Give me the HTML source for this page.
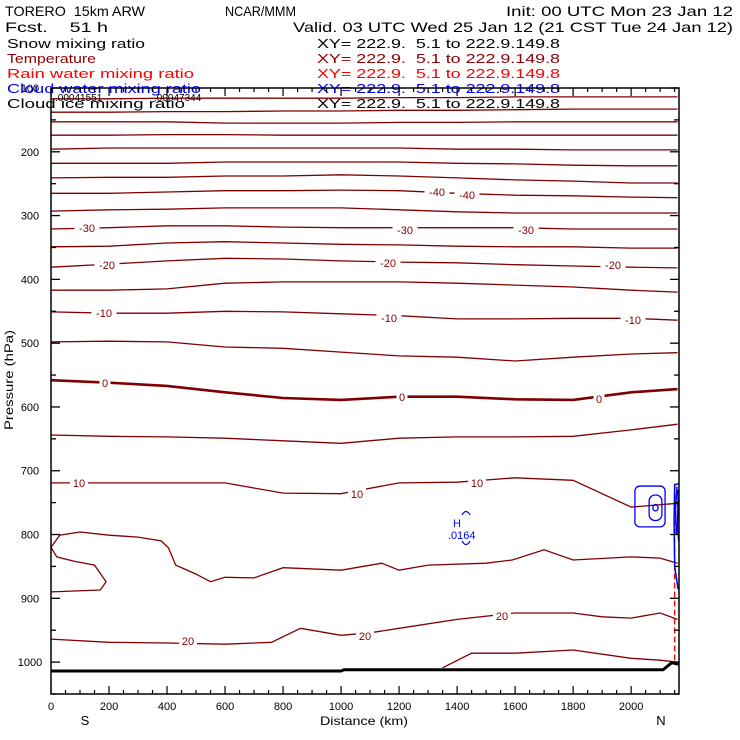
<!DOCTYPE html>
<html><head><meta charset="utf-8"><title>TORERO cross-section</title>
<style>
html,body{margin:0;padding:0;background:#fff;}
svg{display:block;}
text{font-family:"Liberation Sans",sans-serif;white-space:pre;}
</style></head>
<body>
<svg id="chart" width="740" height="740" viewBox="0 0 740 740" xmlns="http://www.w3.org/2000/svg" xml:space="preserve">
  <rect x="0" y="0" width="740" height="740" fill="#fff"/>
  <g font-size="14">
    <text x="5" y="16" textLength="140" lengthAdjust="spacingAndGlyphs">TORERO  15km ARW</text>
    <text x="225" y="16" textLength="71" lengthAdjust="spacingAndGlyphs">NCAR/MMM</text>
    <text x="506" y="16" textLength="227" lengthAdjust="spacingAndGlyphs">Init: 00 UTC Mon 23 Jan 12</text>
    <text x="5" y="32" textLength="103" lengthAdjust="spacingAndGlyphs">Fcst.    51 h</text>
    <text x="293" y="32" textLength="440" lengthAdjust="spacingAndGlyphs">Valid. 03 UTC Wed 25 Jan 12 (21 CST Tue 24 Jan 12)</text>
  </g>
  <g font-size="13">
    <text x="7" y="48" textLength="138" lengthAdjust="spacingAndGlyphs" fill="#000">Snow mixing ratio</text>
    <text x="7" y="63" textLength="89" lengthAdjust="spacingAndGlyphs" fill="#8b0000">Temperature</text>
    <text x="7" y="78" textLength="187" lengthAdjust="spacingAndGlyphs" fill="#ff0000">Rain water mixing ratio</text>
    <text x="7" y="93" textLength="194" lengthAdjust="spacingAndGlyphs" fill="#0000ff">Cloud water mixing ratio</text>
    <text x="7" y="108" textLength="178" lengthAdjust="spacingAndGlyphs" fill="#000">Cloud ice mixing ratio</text>
    <text x="317" y="48" textLength="243" lengthAdjust="spacingAndGlyphs" fill="#000">XY= 222.9.  5.1 to 222.9.149.8</text>
    <text x="317" y="63" textLength="243" lengthAdjust="spacingAndGlyphs" fill="#8b0000">XY= 222.9.  5.1 to 222.9.149.8</text>
    <text x="317" y="78" textLength="243" lengthAdjust="spacingAndGlyphs" fill="#ff0000">XY= 222.9.  5.1 to 222.9.149.8</text>
    <text x="317" y="93" textLength="243" lengthAdjust="spacingAndGlyphs" fill="#0000ff">XY= 222.9.  5.1 to 222.9.149.8</text>
    <text x="317" y="108" textLength="243" lengthAdjust="spacingAndGlyphs" fill="#000">XY= 222.9.  5.1 to 222.9.149.8</text>
  </g>
  <g id="plot"></g>
  <g id="axes"></g>
</svg>
<script>
const NS = "http://www.w3.org/2000/svg";
// ---- data ----
const kmGrid = [0,200,400,600,800,1000,1200,1400,1600,1800,2000,2160];
const isoLevels = [-75,-70,-65,-60,-55,-50,-45,-40,-35,-30,-25,-20,-15,-10,-5,0,5,10];
const isoP_m75 = [117,117,116,116,116,116,115,115,114,114,114,114];
const isoP_m70 = [138,138,137,137,136,136,135,135,134,133,133,133];
const isoP_m65 = [153,153,153,155,155,155,154,154,153,153,153,153];
const isoP_m60 = [174,174,173,173,174,174,174,174,174,174,174,174];
const isoP_m55 = [196,194,194,194,194,194,194,196,196,197,197,197];
const isoP_m50 = [218,218,218,216,216,216,216,218,219,221,222,222];
const isoP_m45 = [241,240,240,238,238,236,238,241,244,246,249,249];
const isoP_m40 = [265,265,263,261,261,260,261,265,268,269,271,272];
const isoP_m35 = [293,291,290,288,288,288,291,294,296,296,296,296];
const isoP_m30 = [321,319,316,316,318,319,319,319,319,321,321,321];
const isoP_m25 = [349,348,343,341,343,345,346,348,349,349,351,351];
const isoP_m20 = [381,376,371,367,368,371,373,374,377,379,381,382];
const isoP_m15 = [417,417,415,406,404,404,404,406,409,412,417,420];
const isoP_m10 = [451,453,453,450,451,454,457,462,462,461,461,464];
const isoP_m5  = [498,497,498,506,508,514,520,522,528,522,517,515];
const isoP_0   = [558,562,567,577,586,589,584,584,588,589,577,572];
const isoP_5   = [644,646,647,649,653,657,649,647,647,646,636,627];
const isoP_10  = [719,719,719,719,735,736,719,718,711,715,757,751];
const isoP15_km = [0,170,190,150,80,20,0,30,100,200,300,380,405,430,500,550,600,700,800,1000,1140,1200,1300,1500,1590,1700,1800,2000,2100,2160];
const isoP15_p  = [890,887,874,848,842,835,820,801,796,801,804,810,821,848,862,874,867,868,852,856,845,856,848,845,840,824,840,835,837,845];
const isoP20_km = [0,200,400,600,760,860,1000,1100,1200,1400,1600,1800,1900,2000,2100,2160];
const isoP20_p  = [964,969,970,972,969,947,958,954,947,933,923,923,929,931,923,933];
const isoP25_km = [1350,1450,1600,1800,2000,2100,2160];
const isoP25_p  = [1009,986,986,981,994,997,1000];
const groundKm = [0,1000,1010,2110,2140,2160,2165];
const groundP  = [1014,1014,1012,1012,1001,1003,1003];
const yTicks = [100,200,300,400,500,600,700,800,900,1000];
const xTicks = [0,200,400,600,800,1000,1200,1400,1600,1800,2000];
const cloudRingKm = [2065,2084,2084];
const cloudRingP = [756,758,758];
const cloudRingKmHalf = [52,22,9];
const cloudRingPHalf = [32,20,5];

// ---- scales ----
const X0=51, X1=679, Y0=88, Y1=694;
const KM_MAX = 2165, P_MIN=100, P_MAX=1050;
function xs(km){ return X0 + km*(X1-X0)/KM_MAX; }
function ys(p){ return Y0 + (p-P_MIN)*(Y1-Y0)/(P_MAX-P_MIN); }

const plot = document.getElementById('plot');
const axes = document.getElementById('axes');
function mk(tag, attrs, parent){
  const e = document.createElementNS(NS, tag);
  for (const k in attrs) e.setAttribute(k, attrs[k]);
  parent.appendChild(e); return e;
}
function pathD(kms, ps){ return kms.map((k,i)=>(i?'L':'M')+xs(k).toFixed(1)+' '+ys(ps[i]).toFixed(1)).join(' '); }

const isoSeries = [isoP_m75,isoP_m70,isoP_m65,isoP_m60,isoP_m55,isoP_m50,isoP_m45,isoP_m40,isoP_m35,isoP_m30,isoP_m25,isoP_m20,isoP_m15,isoP_m10,isoP_m5,isoP_0,isoP_5,isoP_10];
isoSeries.forEach((ps,i)=>{
  const p = mk('path',{d:pathD(kmGrid,ps),fill:'none',stroke:'#800000','stroke-width':isoLevels[i]===0?2.6:1.3},plot);
  
  
});
[[isoP15_km,isoP15_p,'isotherm-15'],[isoP20_km,isoP20_p,'isotherm-20'],[isoP25_km,isoP25_p,'isotherm-25']].forEach(s=>{
  const p = mk('path',{d:pathD(s[0],s[1]),fill:'none',stroke:'#800000','stroke-width':1.3},plot);
  
  
});
// ground
const g = mk('path',{d:pathD(groundKm,groundP),fill:'none',stroke:'#000','stroke-width':3},plot);


// rain water dashed
const rd = mk('line',{x1:xs(2150),x2:xs(2150),y1:ys(720),y2:ys(1001),stroke:'#ff0000','stroke-width':1.3,'stroke-dasharray':'6,3'},plot);


// cloud water rings
cloudRingKmHalf.forEach((kh,i)=>{
  const ck = cloudRingKm[i], cp = cloudRingP[i];
  const r = mk('rect',{x:xs(ck-kh),y:ys(cp-cloudRingPHalf[i]),width:xs(ck+kh)-xs(ck-kh),height:ys(cp+cloudRingPHalf[i])-ys(cp-cloudRingPHalf[i]),rx:i===0?5:6,fill:'none',stroke:'#0000ff','stroke-width':1.3},plot);
  
  
});
const cw2 = mk('path',{d:'M'+xs(2165)+' '+ys(720)+' L'+xs(2150)+' '+ys(722)+' L'+xs(2148)+' '+ys(780)+' L'+xs(2150)+' '+ys(850)+' L'+xs(2162)+' '+ys(886)+' M'+xs(2158)+' '+ys(725)+' L'+xs(2153)+' '+ys(760)+' L'+xs(2156)+' '+ys(800)+' M'+xs(2162)+' '+ys(730)+' L'+xs(2160)+' '+ys(790)+' L'+xs(2164)+' '+ys(810),fill:'none',stroke:'#0000ff','stroke-width':1.5},plot);


// H marker
const hm = mk('g',{fill:'#0000ff','font-size':'11'},plot);


mk('text',{x:453,y:527},hm).textContent='H';
mk('text',{x:448,y:539},hm).textContent='.0164';
mk('path',{d:'M462 515 Q466 508 470 515 M462 541 Q466 548 470 541',fill:'none',stroke:'#0000ff','stroke-width':1.2},hm);

// isotherm labels
const labs = [['-40',437,192],['-40',467,195],['-30',87,228],['-30',405,230],['-30',526,230],['-20',107,265],['-20',388,263],['-20',613,265],['-10',104,313],['-10',389,318],['-10',633,320],['0',105,383],['0',402,397],['0',599,399],['10',79,483],['10',357,494],['10',477,483],['20',188,641],['20',365,636],['20',502,616]];
labs.forEach(l=>{
  const w = l[0].length*7+4;
  const gl = mk('g',{},plot);
  
  
  mk('rect',{x:l[1]-w/2,y:l[2]-6,width:w,height:11,fill:'#fff'},gl);
  const t = mk('text',{x:l[1],y:l[2]+4,'text-anchor':'middle','font-size':'11',fill:'#800000'},gl);
  t.textContent=l[0];
});

// frame & ticks
const fr = mk('rect',{x:X0,y:Y0,width:X1-X0,height:Y1-Y0,fill:'none',stroke:'#000','stroke-width':1.5},axes);


for(let p=100;p<=1050;p+=50){
  const L = p%100===0?9:5, y=ys(p);
  mk('line',{x1:X0,x2:X0+L,y1:y,y2:y,stroke:'#000','stroke-width':1.3},axes);
  mk('line',{x1:X1,x2:X1-L,y1:y,y2:y,stroke:'#000','stroke-width':1.3},axes);
}
for(let k=0;k<=2150;k+=50){
  const L = k%200===0?8:4, x=xs(k);
  mk('line',{x1:x,x2:x,y1:Y1,y2:Y1-L,stroke:'#000','stroke-width':1.2},axes);
  mk('line',{x1:x,x2:x,y1:Y0,y2:Y0+L,stroke:'#000','stroke-width':1.2},axes);
}
yTicks.forEach(p=>{
  const t = mk('text',{x:30,y:ys(p)+4,'text-anchor':'middle','font-size':'11',fill:'#000'},axes);
  
  
  t.textContent=p;
});
xTicks.forEach(k=>{
  const t = mk('text',{x:xs(k),y:710,'text-anchor':'middle','font-size':'11',fill:'#000'},axes);
  
  
  t.textContent=k;
});
// top overlapping labels
const v1 = mk('text',{x:55,y:101,'font-size':'10',fill:'#000'},axes);


v1.textContent='.00041551';
const v2 = mk('text',{x:154,y:101,'font-size':'10',fill:'#000'},axes);


v2.textContent='.00047344';
const yt = mk('text',{x:13,y:380,'text-anchor':'middle','font-size':'12',transform:'rotate(-90 13 380)',textLength:'100',lengthAdjust:'spacingAndGlyphs'},axes);


yt.textContent='Pressure (hPa)';
const xt = mk('text',{x:364,y:725,'text-anchor':'middle','font-size':'12',textLength:'88',lengthAdjust:'spacingAndGlyphs'},axes);


xt.textContent='Distance (km)';
const sL = mk('text',{x:85,y:725,'text-anchor':'middle','font-size':'13'},axes);


sL.textContent='S';
const nL = mk('text',{x:661,y:725,'text-anchor':'middle','font-size':'13'},axes);


nL.textContent='N';
</script>
</body></html>
